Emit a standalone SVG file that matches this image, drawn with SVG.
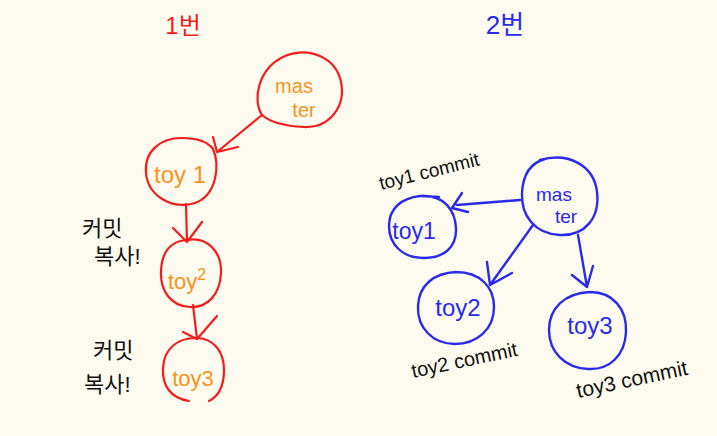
<svg xmlns="http://www.w3.org/2000/svg" width="717" height="436" viewBox="0 0 717 436">
<style>
.red{fill:none;stroke:#f21d1d;stroke-width:2.2;stroke-linecap:round;stroke-linejoin:round}
.blue{fill:none;stroke:#2a2aec;stroke-width:2.4;stroke-linecap:round;stroke-linejoin:round}
.ot{fill:#f7941d;font-family:"Liberation Sans",sans-serif;}
.bt{fill:#2a2aec;font-family:"Liberation Sans",sans-serif;}
.kt{fill:#111;font-family:"Liberation Sans",sans-serif;}
.kr{font-family:"Liberation Sans","Noto Sans CJK KR",sans-serif;}
</style>
<rect width="717" height="436" fill="#fdfbef"/>
<text x="183" y="34" class="kr" font-size="24" fill="#f21d1d" text-anchor="middle">1번</text>
<text x="505" y="34" class="kr" font-size="26" fill="#2a2aec" text-anchor="middle">2번</text>

<g id="connectors">
  <path class="red" d="M262 115 L217 152 M213 137 L217 152 L238 147"/>
  <path class="red" d="M186 204 L187 242 M173 228 L187 242 L202 222"/>
  <path class="red" d="M193 305 L197 339 M183 332 L197 339 L217 316"/>
  <path class="blue" d="M520 200 L457 205 M462 193 L452 208 L468 212"/>
  <path class="blue" d="M533 225 L490 285 M487 262 L490 285 L512 273"/>
  <path class="blue" d="M578 235 L587 287 M572 275 L587 287 L593 266"/>
</g>

<g id="left-master">
  <path class="red" d="M262 115 C252 100 258 68 285 56 C310 46 336 58 341 82 C346 106 330 128 304 127 C285 126 270 122 262 115"/>
  <text x="294" y="93" class="ot" font-size="20" text-anchor="middle">mas</text>
  <text x="304" y="117" class="ot" font-size="20" text-anchor="middle">ter</text>
</g>
<g id="left-toy1">
  <path class="red" d="M213 149 C220 165 217 195 195 203 C172 210 148 196 146 173 C144 150 162 138 181 138 C198 138 208 142 213 149"/>
  <text x="180" y="183" class="ot" font-size="24" text-anchor="middle">toy 1</text>
</g>
<g id="left-toy2">
  <path class="red" d="M187 240 C207 236 222 252 221 273 C220 295 207 308 190 307 C170 306 160 290 161 271 C162 250 172 241 187 240"/>
  <text x="168" y="289" class="ot" font-size="22">toy<tspan dy="-9" font-size="16">2</tspan></text>
</g>
<g id="left-toy3">
  <path class="red" d="M189 401 C170 398 162 385 163 368 C164 348 178 338 196 338 C214 338 224 352 224 370 C224 390 215 398 209 401"/>
  <text x="193" y="386" class="ot" font-size="22" text-anchor="middle">toy3</text>
</g>
<g id="left-note1">
  <text x="82" y="236" class="kr" font-size="22" fill="#111">커밋</text>
  <text x="94" y="264" class="kr" font-size="22" fill="#111">복사!</text>
</g>
<g id="left-note2">
  <text x="93" y="358" class="kr" font-size="22" fill="#111">커밋</text>
  <text x="84" y="392" class="kr" font-size="22" fill="#111">복사!</text>
</g>

<g id="right-master">
  <path class="blue" d="M540 160 C568 152 594 165 597 192 C600 218 585 236 560 235 C535 234 521 216 522 193 C523 174 530 163 545 159"/>
  <text x="554" y="201" class="bt" font-size="19" text-anchor="middle">mas</text>
  <text x="566" y="223" class="bt" font-size="19" text-anchor="middle">ter</text>
</g>
<g id="right-toy1">
  <path class="blue" d="M422 196 C444 195 455 210 456 228 C457 248 443 258 424 258 C402 258 389 244 389 226 C389 208 402 198 420 196 M421 196 L439 197"/>
  <text x="414" y="239" class="bt" font-size="23" text-anchor="middle">toy1</text>
</g>
<g id="right-toy2">
  <path class="blue" d="M456 272 C480 272 494 287 494 307 C494 330 476 344 455 344 C433 344 417 328 418 306 C419 285 434 273 456 272"/>
  <text x="458" y="316" class="bt" font-size="24" text-anchor="middle">toy2</text>
</g>
<g id="right-toy3">
  <path class="blue" d="M590 292 C613 292 627 309 626 332 C625 355 610 370 588 369 C565 368 549 352 549 330 C549 308 565 293 590 292"/>
  <text x="590" y="334" class="bt" font-size="24" text-anchor="middle">toy3</text>
</g>

<text x="381" y="190" class="kt" font-size="19" transform="rotate(-14 381 190)">toy1 commit</text>
<text x="413" y="378" class="kt" font-size="20" transform="rotate(-12 413 378)">toy2 commit</text>
<text x="578" y="398" class="kt" font-size="21" transform="rotate(-12 578 398)">toy3 commit</text>
</svg>
